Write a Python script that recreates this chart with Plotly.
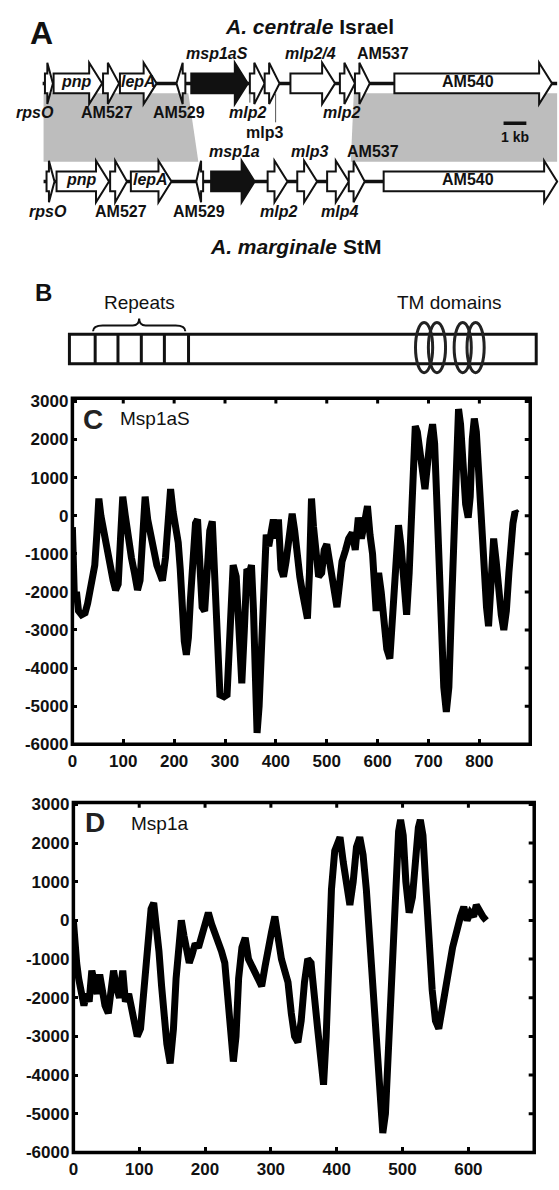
import plotly.graph_objects as go

# ---------------- Panel A: gene maps (kb) ----------------
isr_names = ["rpsO", "pnp", "AM527", "lepA", "AM529", "msp1aS", "mlp2", "mlp3", "mlp2/4", "mlp2", "AM537", "AM540"]
isr_start = [0.10, 0.48, 2.65, 3.39, 5.87, 6.52, 9.09, 9.74, 10.87, 13.04, 13.70, 15.43]
isr_end = [0.45, 2.61, 3.35, 5.00, 6.26, 9.00, 9.74, 10.39, 12.83, 13.70, 14.35, 22.35]
isr_strand = [1, 1, 1, 1, -1, 1, 1, 1, 1, 1, 1, 1]
isr_length = 22.57

stm_names = ["rpsO", "pnp", "AM527", "lepA", "AM529", "msp1a", "mlp2", "mlp3", "mlp4", "AM537", "AM540"]
stm_start = [0.17, 0.61, 2.96, 3.87, 6.74, 7.39, 9.87, 11.17, 12.48, 13.43, 14.96]
stm_end = [0.52, 2.91, 3.70, 5.65, 7.04, 9.30, 10.74, 12.04, 13.43, 14.13, 22.57]
stm_strand = [1, 1, 1, 1, -1, 1, 1, 1, 1, 1, 1]
stm_length = 22.57

# conserved (syntenic) blocks: [isr_from, isr_to, stm_from, stm_to]
block_left = [0.04, 6.39, 0.04, 6.83]
block_right = [13.65, 22.57, 13.52, 22.57]

# labels
isr_lab_text = ["msp1aS", "mlp2/4", "AM537", "pnp", "lepA", "AM540", "rpsO", "AM527", "AM529", "mlp2", "mlp2", "mlp3"]
isr_lab_x = [7.65, 11.74, 14.91, 1.48, 4.22, 18.65, -0.35, 2.83, 6.00, 9.00, 13.09, 9.74]
isr_lab_row = ["above", "above", "above", "in", "in", "in", "below", "below", "below", "below", "below", "below2"]
isr_lab_ital = [1, 1, 0, 1, 1, 0, 1, 0, 0, 1, 1, 0]
isr_leaders = [[9.09, 97], [10.22, 117]]

stm_lab_text = ["msp1a", "mlp3", "AM537", "pnp", "lepA", "AM540", "rpsO", "AM527", "AM529", "mlp2", "mlp4"]
stm_lab_x = [8.43, 11.70, 14.48, 1.70, 4.74, 18.65, 0.22, 3.43, 6.87, 10.35, 13.04]
stm_lab_row = ["above", "above", "above", "in", "in", "in", "below", "below", "below", "below", "below"]
stm_lab_ital = [1, 1, 0, 1, 1, 0, 1, 0, 0, 1, 1]

scale_bar_kb = [20.22, 21.22]

# ---------------- Panel B: protein schematic (aa) ----------------
prot_len = 870
repeat_edges = [0, 48, 90.5, 134, 177, 222]
tm_centers = [661, 685, 733, 757]

# ---------------- Panel C: Msp1aS hydropathy ----------------
c_x = [0, 2, 4, 8, 12, 18, 25, 30, 35, 40, 44, 48, 52, 56, 60, 65, 70, 75, 80, 85, 90, 95, 99, 104,
       110, 116, 122, 128, 133, 138, 143, 148, 154, 160, 166, 172, 177, 183, 188, 193, 198, 204, 208,
       212, 216, 220, 224, 228, 232, 237, 242, 246, 250, 255, 260, 264, 270, 275, 279, 284, 290, 298,
       304, 310, 316, 322, 328, 333, 338, 343, 348, 352, 356, 360, 363, 367, 372, 377, 381, 386, 390,
       395, 400, 405, 410, 415, 420, 426, 432, 437, 442, 447, 452, 457, 462, 466, 470, 474, 479, 484,
       490, 495, 500, 505, 510, 515, 520, 525, 530, 537, 543, 550, 556, 562, 568, 574, 580, 585, 590,
       597, 602, 607, 612, 618, 624, 630, 636, 641, 646, 651, 657, 662, 666, 670, 674, 678, 683, 688,
       693, 698, 703, 708, 712, 716, 720, 725, 730, 735, 740, 745, 749, 752, 755, 759, 763, 768, 773,
       778, 782, 786, 790, 794, 799, 804, 809, 814, 818, 823, 828, 833, 838, 843, 848, 853, 858, 862,
       866, 870, 874]
c_y = [-300, -1500, -2200, -2000, -2500, -2600, -2550, -2300, -1900, -1500, -1300, -500, 450, 0, -300,
       -700, -1100, -1400, -1700, -1950, -1800, -500, 500, 0, -700, -1100, -1500, -1950, -1700, -600,
       500, -100, -600, -900, -1300, -1600, -1700, -1100, -200, 700, 100, -300, -700, -1400, -2500,
       -3300, -3650, -3200, -2200, -1000, -200, -100, -1500, -2400, -2500, -1300, -400, -150, -1500,
       -3200, -4700, -4750, -4700, -3000, -1300, -1600, -3000, -4400, -3000, -1400, -1500, -1300, -2500,
       -4800, -5700, -5000, -3200, -1500, -500, -800, -500, -100, -600, -100, -1400, -1600, -1200, -700,
       50, -400, -1300, -1600, -2000, -2400, -2700, -1500, 450, -300, -1000, -1600, -1500, -900, -750,
       -1200, -1800, -2000, -2400, -1800, -1200, -900, -600, -450, -900, -50, -600, -200, 250, -500,
       -1000, -2500, -1500, -2000, -2800, -3500, -3750, -2500, -1000, -250, -800, -1800, -2600, -1500,
       200, 1500, 2350, 2200, 1500, 1200, 700, 1500, 2000, 2400, 1900, 500, -1200, -3000, -4500, -5150,
       -4500, -2500, -500, 1000, 2200, 2800, 2400, 1200, 300, -50, 500, 2000, 2550, 2200, 1000, -500,
       -1500, -2400, -2900, -2000, -600, -1200, -2000, -2600, -3000, -2500, -1500, -500, -200, 100, 50]

# ---------------- Panel D: Msp1a hydropathy ----------------
d_x = [0, 2, 5, 8, 12, 16, 20, 24, 28, 32, 36, 40, 44, 48, 53, 57, 61, 65, 70, 75, 79, 84, 88, 92, 97,
       102, 106, 110, 114, 118, 122, 126, 130, 134, 138, 142, 147, 152, 156, 160, 164, 168, 172, 176,
       180, 185, 190, 195, 200, 205, 210, 215, 220, 225, 230, 235, 240, 243, 247, 251, 256, 261, 266,
       271, 276, 281, 286, 291, 296, 301, 306, 311, 316, 321, 326, 331, 336, 341, 346, 351, 356, 361,
       366, 371, 376, 380, 384, 388, 392, 397, 401, 405, 410, 415, 420, 425, 430, 435, 440, 445, 450,
       455, 460, 465, 470, 474, 478, 482, 486, 490, 494, 497, 501, 505, 510, 515, 520, 524, 527, 531,
       535, 540, 545, 550, 555, 560, 565, 570, 576, 582, 588, 593, 598, 603, 608, 612, 617, 622, 627]
d_y = [0, -800, -1100, -1500, -1800, -2200, -1900, -2100, -1300, -1700, -1900, -1400, -1800, -2200,
       -2400, -1800, -1300, -1700, -2000, -1300, -2100, -1900, -2300, -2700, -3000, -2800, -2000, -900,
       -200, 300, 450, -100, -800, -1700, -2500, -3200, -3700, -2800, -1500, -400, 0, -400, -800, -1100,
       -900, -600, -700, -400, 0, 200, -100, -300, -500, -800, -1100, -2200, -3200, -3650, -3000, -1500,
       -700, -450, -1000, -1200, -1400, -1500, -1700, -1200, -600, -300, 100, -600, -1000, -1300, -1600,
       -2400, -3000, -3150, -2600, -1600, -1000, -1100, -1800, -2800, -3600, -4250, -3000, -1000, 800,
       1800, 2000, 2150, 1500, 800, 400, 1000, 1900, 2150, 1700, 800, -500, -1800, -3000, -4500, -5500,
       -5000, -3500, -1500, 0, 1500, 2300, 2600, 2200, 1000, 200, 600, 1800, 2400, 2600, 2200, 1000,
       -500, -1800, -2600, -2800, -2300, -1900, -1300, -700, -250, 100, 350, 0, 200, 100, 400, 200, 100, 0]

y_ticks = [-6000, -5000, -4000, -3000, -2000, -1000, 0, 1000, 2000, 3000]
c_xticks = [0, 100, 200, 300, 400, 500, 600, 700, 800]
d_xticks = [0, 100, 200, 300, 400, 500, 600]

# ---------------- layout constants ----------------
W, H = 559, 1190
FONT = "Liberation Sans, Arial, sans-serif"
ROW1, ROW2 = 77.5, 177
BODY, HEAD, HEADLEN = 10, 21, 0.57


def arrow_path(s, e, strand, yc):
    L = e - s
    h = min(HEADLEN, 0.7 * L)
    if strand > 0:
        b = e - h
        pts = [(s, yc - BODY), (b, yc - BODY), (b, yc - HEAD), (e, yc), (b, yc + HEAD), (b, yc + BODY), (s, yc + BODY)]
    else:
        b = s + h
        pts = [(e, yc - BODY), (b, yc - BODY), (b, yc - HEAD), (s, yc), (b, yc + HEAD), (b, yc + BODY), (e, yc + BODY)]
    return "M " + " L ".join(f"{x:.3f},{y:.2f}" for x, y in pts) + " Z"


shapes = []
# gray syntenic blocks
for blk in (block_left, block_right):
    y0, y1 = ROW1 + BODY, ROW2 - HEAD + 1
    shapes.append(dict(type="path", xref="x", yref="y",
                       path=f"M {blk[0]},{y0} L {blk[1]},{y0} L {blk[3]},{y1} L {blk[2]},{y1} Z",
                       fillcolor="#bdbdbd", line=dict(width=0)))
# backbones
shapes.append(dict(type="line", xref="x", yref="y", x0=0, x1=isr_length, y0=ROW1, y1=ROW1,
                   line=dict(color="#111", width=3.5)))
shapes.append(dict(type="line", xref="x", yref="y", x0=0.04, x1=stm_length, y0=ROW2, y1=ROW2,
                   line=dict(color="#111", width=3.5)))
# gene arrows
for names, st, en, sd, yc in ((isr_names, isr_start, isr_end, isr_strand, ROW1),
                              (stm_names, stm_start, stm_end, stm_strand, ROW2)):
    for n, s, e, d in zip(names, st, en, sd):
        fill = "#111" if n.startswith("msp1a") else "white"
        shapes.append(dict(type="path", xref="x", yref="y", path=arrow_path(s, e, d, yc),
                           fillcolor=fill, line=dict(color="#111", width=2)))
# leader lines
for lx, ly in isr_leaders:
    shapes.append(dict(type="line", xref="x", yref="y", x0=lx, x1=lx, y0=ROW1 + BODY, y1=ly,
                       line=dict(color="#555", width=1)))
# scale bar
shapes.append(dict(type="line", xref="x", yref="y", x0=scale_bar_kb[0], x1=scale_bar_kb[1], y0=118, y1=118,
                   line=dict(color="#111", width=3.5)))

# Panel B shapes
shapes.append(dict(type="rect", xref="x2", yref="y2", x0=0, x1=prot_len, y0=332, y1=362,
                   line=dict(color="#111", width=3), fillcolor="white"))
for r in repeat_edges[1:]:
    shapes.append(dict(type="line", xref="x2", yref="y2", x0=r, x1=r, y0=332, y1=362,
                       line=dict(color="#111", width=3)))
for c in tm_centers:
    shapes.append(dict(type="circle", xref="x2", yref="y2", x0=c - 16, x1=c + 16, y0=320, y1=371,
                       line=dict(color="#222", width=3)))
bx0, bx1 = repeat_edges[0] + 44, repeat_edges[-1] - 6
bm = (bx0 + bx1) / 2
shapes.append(dict(type="path", xref="x2", yref="y2",
                   path=(f"M {bx0},329 Q {bx0},323 {bx0+18},323 L {bm-12},323 Q {bm},323 {bm},316 "
                         f"Q {bm},323 {bm+12},323 L {bx1-18},323 Q {bx1},323 {bx1},329"),
                   line=dict(color="#111", width=2)))

# frames + mirrored ticks for C and D
for xa, ya, xt, yt in (("x3", "y3", c_xticks, y_ticks), ("x4", "y4", d_xticks, y_ticks)):
    shapes.append(dict(type="rect", xref=f"{xa} domain", yref=f"{ya} domain", x0=0, x1=1, y0=0, y1=1,
                       line=dict(color="#000", width=3.5)))
    for t in xt[1:]:
        shapes.append(dict(type="line", xref=xa, yref=f"{ya} domain", x0=t, x1=t, y0=1, y1=0.985,
                           line=dict(color="#000", width=3)))
    for t in yt[1:]:
        shapes.append(dict(type="line", xref=f"{xa} domain", yref=ya, x0=1, x1=0.988, y0=t, y1=t,
                           line=dict(color="#000", width=3)))

annotations = []


def txt(x, y, s, size=16, xref="x", yref="y", color="#111"):
    annotations.append(dict(x=x, y=y, xref=xref, yref=yref, text=s, showarrow=False,
                            xanchor="center", yanchor="middle",
                            font=dict(family=FONT, size=size, color=color)))


row_off = {"above": -30, "in": -1.5, "below": 30, "below2": 49.5}
for texts, xs, rows, itals, yc in ((isr_lab_text, isr_lab_x, isr_lab_row, isr_lab_ital, ROW1),
                                   (stm_lab_text, stm_lab_x, stm_lab_row, stm_lab_ital, ROW2)):
    for t, x, r, it in zip(texts, xs, rows, itals):
        s = f"<b><i>{t}</i></b>" if it else f"<b>{t}</b>"
        txt(x, yc + row_off[r], s, 16)

txt(11.70, 20, "<b><i>A. centrale</i> Israel</b>", 21)
txt(11.09, 243, "<b><i>A. marginale</i> StM</b>", 21)
txt((scale_bar_kb[0] + scale_bar_kb[1]) / 2, 132, "<b>1 kb</b>", 14)
txt(37 / W, 26, "<b>A</b>", 32, xref="paper")
txt(39 / W, 290, "<b>B</b>", 24, xref="paper")
txt(bm, 300, "Repeats", 19, xref="x2", yref="y2")
txt(sum(tm_centers) / len(tm_centers), 300, "TM domains", 19, xref="x2", yref="y2")
txt(0.045, 0.94, "<b>C</b>", 28, xref="x3 domain", yref="y3 domain", color="#222")
txt(0.18, 0.943, "Msp1aS", 19, xref="x3 domain", yref="y3 domain")
txt(0.047, 0.944, "<b>D</b>", 28, xref="x4 domain", yref="y4 domain", color="#222")
txt(0.187, 0.941, "Msp1a", 19, xref="x4 domain", yref="y4 domain")

fig = go.Figure()
fig.add_trace(go.Scatter(x=[0], y=[0], xaxis="x", yaxis="y", mode="markers", marker=dict(opacity=0),
                         hoverinfo="skip", showlegend=False))
fig.add_trace(go.Scatter(x=[0], y=[0], xaxis="x2", yaxis="y2", mode="markers", marker=dict(opacity=0),
                         hoverinfo="skip", showlegend=False))
fig.add_trace(go.Scatter(x=c_x, y=c_y, xaxis="x3", yaxis="y3", mode="lines",
                         line=dict(color="#000", width=7), showlegend=False))
fig.add_trace(go.Scatter(x=d_x, y=d_y, xaxis="x4", yaxis="y4", mode="lines",
                         line=dict(color="#000", width=7), showlegend=False))

top_dom = [1 - 390 / H, 1]
hidden = dict(visible=False, showgrid=False, zeroline=False, fixedrange=True)


def frame_axis(domain, rng, ticks, anchor, standoff):
    return dict(domain=domain, range=rng, anchor=anchor, showline=False,
                ticks="inside", ticklen=5, tickwidth=3, tickcolor="#000",
                tickvals=ticks, ticktext=[str(t) for t in ticks], showgrid=False, zeroline=False,
                ticklabelstandoff=standoff,
                tickfont=dict(family=FONT, size=17, color="#111", weight="bold"))


fig.update_layout(
    width=W, height=H, margin=dict(l=0, r=0, t=0, b=0),
    paper_bgcolor="white", plot_bgcolor="rgba(0,0,0,0)", showlegend=False,
    xaxis=dict(domain=[0, 1], range=[-38 / 23, (W - 38) / 23], anchor="y", **hidden),
    yaxis=dict(domain=top_dom, range=[390, 0], anchor="x", **hidden),
    xaxis2=dict(domain=[0, 1], range=[-65 / 0.5414, (W - 65) / 0.5414], anchor="y2", **hidden),
    yaxis2=dict(domain=top_dom, range=[390, 0], anchor="x2", **hidden),
    xaxis3=frame_axis([68 / W, 530 / W], [0, 900], c_xticks, "y3", 5),
    yaxis3=frame_axis([1 - 748 / H, 1 - 397 / H], [-6000, 3080], y_ticks, "x3", 3),
    xaxis4=frame_axis([69 / W, 534 / W], [0, 700], d_xticks, "y4", 5),
    yaxis4=frame_axis([1 - 1162 / H, 1 - 807 / H], [-6000, 3050], y_ticks, "x4", 3),
    shapes=shapes, annotations=annotations,
)

fig.write_html("out.html", config={"displayModeBar": False},
               post_script="document.body.style.margin='0';document.body.style.overflow='hidden';")
